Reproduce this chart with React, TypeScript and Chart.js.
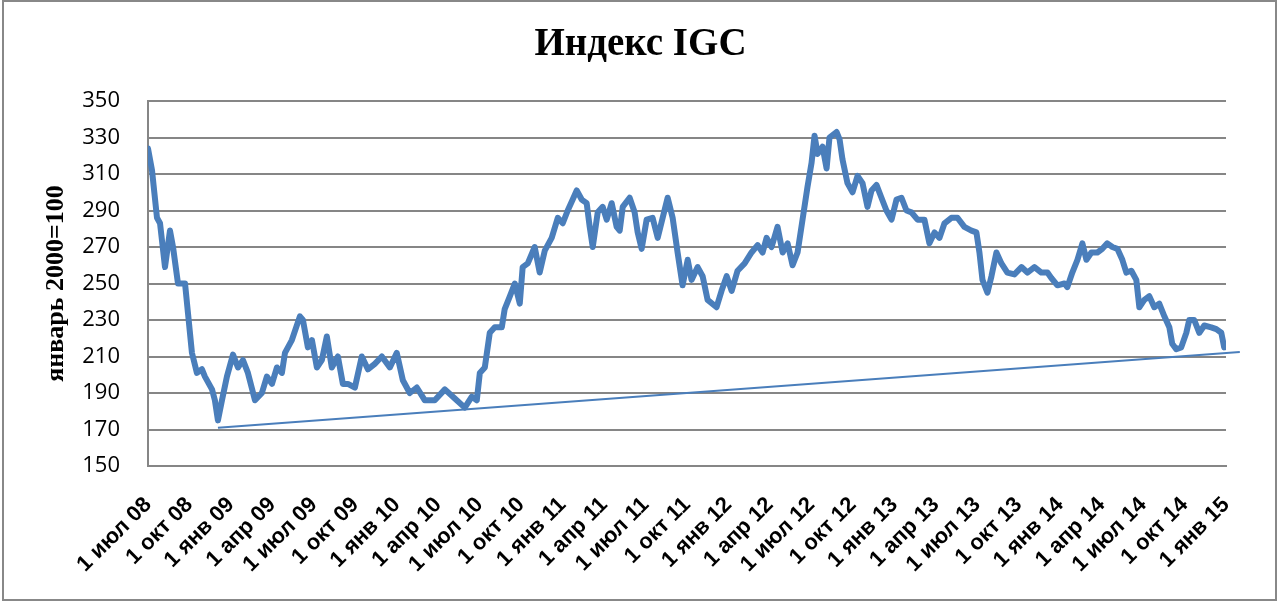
import React, { useEffect, useRef } from "react";
import { Chart, registerables } from "chart.js";

Chart.register(...registerables);

const chartTitle = "Индекс IGC";
const yAxisTitle = "январь 2000=100";

// x: months since 1 Jul 2008
const months = [
  0.0, 0.29, 0.65, 0.87, 1.23, 1.59, 1.81, 2.17, 2.68, 2.89, 3.18, 3.54, 3.9, 4.12, 4.63, 4.84, 5.06, 5.35, 5.71,
  6.15, 6.51, 6.87, 7.23, 7.74, 8.24, 8.6, 8.97, 9.33, 9.69, 9.91, 10.41, 10.99, 11.21, 11.57, 11.86, 12.22, 12.58,
  12.94, 13.3, 13.74, 14.1, 14.46, 14.97, 15.47, 15.91, 16.41, 16.92, 17.5, 18.0, 18.44, 18.94, 19.45, 20.03, 20.75,
  21.48, 22.2, 22.92, 23.43, 23.79, 24.01, 24.37, 24.73, 25.09, 25.6, 25.81, 26.18, 26.54, 26.9, 27.11, 27.48, 27.98,
  28.34, 28.71, 29.21, 29.65, 30.01, 30.37, 30.73, 31.02, 31.38, 31.74, 31.96, 32.18, 32.54, 32.9, 33.19, 33.55, 33.91,
  34.13, 34.35, 34.85, 35.21, 35.43, 35.72, 36.08, 36.51, 36.88, 37.24, 37.6, 37.96, 38.32, 38.68, 39.05, 39.33, 39.77,
  40.13, 40.49, 41.14, 41.5, 41.87, 42.23, 42.66, 43.17, 43.67, 44.11, 44.47, 44.76, 45.12, 45.55, 45.92, 46.28, 46.64,
  47.0, 47.36, 47.72, 48.01, 48.23, 48.45, 48.81, 49.1, 49.31, 49.82, 50.04, 50.25, 50.61, 50.98, 51.34, 51.7, 52.06,
  52.35, 52.71, 53.07, 53.43, 53.8, 54.16, 54.52, 54.88, 55.24, 55.68, 56.18, 56.54, 56.91, 57.27, 57.63, 58.13, 58.57,
  59.07, 59.58, 59.94, 60.16, 60.38, 60.74, 61.03, 61.39, 61.75, 62.18, 62.69, 63.2, 63.63, 64.14, 64.64, 65.08, 65.36,
  65.8, 66.31, 66.52, 66.88, 67.25, 67.61, 67.9, 68.26, 68.69, 69.05, 69.41, 69.78, 70.14, 70.5, 70.79, 71.15, 71.51,
  71.73, 72.09, 72.45, 72.81, 73.17, 73.54, 73.9, 74.11, 74.4, 74.76, 75.13, 75.34, 75.7, 76.07, 76.43, 76.93, 77.3,
  77.66, 77.87,
];

const igc = [
  324, 312, 286, 283, 259, 279, 270, 250, 250, 234, 212, 201, 203, 199, 192, 186, 175, 186, 199,
  211, 204, 208, 201, 186, 190, 199, 195, 204, 201, 212, 219, 232, 230, 215, 219, 204, 208,
  221, 204, 210, 195, 195, 193, 210, 203, 206, 210, 204, 212, 197, 190, 193, 186, 186,
  192, 187, 182, 188, 186, 201, 204, 223, 226, 226, 236, 243, 250, 239, 259, 261, 270,
  256, 268, 275, 286, 283, 290, 296, 301, 296, 294, 281, 270, 289, 292, 285, 294, 281,
  279, 292, 297, 289, 278, 269, 285, 286, 275, 286, 297, 286, 267, 249, 263, 252, 259,
  254, 241, 237, 246, 254, 246, 257, 261, 267, 271, 267, 275, 270, 281, 267, 272, 260,
  267, 285, 303, 316, 331, 321, 325, 313, 330, 333, 329, 318, 305, 300, 309, 305, 292,
  301, 304, 297, 290, 285, 296, 297, 290, 289, 285, 285, 272, 278, 275, 283, 286, 286,
  281, 279, 278, 267, 252, 245, 254, 267, 261, 256, 255, 259, 256, 259, 256, 256, 253,
  249, 250, 248, 256, 263, 272, 263, 267, 267, 269, 272, 270, 269, 263, 256, 257, 252,
  237, 241, 243, 237, 239, 232, 226, 217, 214, 215, 223, 230, 230, 223, 227, 226, 225,
  223, 215,
];

const trendMonths = [5.06, 79.0];
const trendValues = [171, 212.5];

const tickLabels = [
  "1 июл 08", "1 окт 08", "1 янв 09", "1 апр 09", "1 июл 09", "1 окт 09", "1 янв 10", "1 апр 10", "1 июл 10",
  "1 окт 10", "1 янв 11", "1 апр 11", "1 июл 11", "1 окт 11", "1 янв 12", "1 апр 12", "1 июл 12", "1 окт 12",
  "1 янв 13", "1 апр 13", "1 июл 13", "1 окт 13", "1 янв 14", "1 апр 14", "1 июл 14", "1 окт 14", "1 янв 15",
];

export default function App() {
  const ref = useRef<HTMLCanvasElement | null>(null);

  useEffect(() => {
    if (!ref.current) return;
    const lineColor = "#4A7EBB";
    const gridColor = "#868686";
    const chart = new Chart(ref.current, {
      type: "line",
      data: {
        datasets: [
          {
            data: months.map((m, i) => ({ x: m, y: igc[i] })),
            borderColor: lineColor,
            borderWidth: 6,
            pointRadius: 0,
            tension: 0,
            borderJoinStyle: "round",
            borderCapStyle: "round",
          },
          {
            data: trendMonths.map((m, i) => ({ x: m, y: trendValues[i] })),
            borderColor: lineColor,
            borderWidth: 2,
            pointRadius: 0,
            clip: false,
          },
        ],
      },
      options: {
        animation: false,
        responsive: false,
        maintainAspectRatio: false,
        layout: { padding: { left: 55, right: 55, top: 0, bottom: 0 } },
        plugins: {
          legend: { display: false },
          tooltip: { enabled: false },
          title: {
            display: true,
            text: chartTitle,
            color: "#000",
            font: { family: "'Liberation Serif', 'Times New Roman', serif", size: 39, weight: "bold" },
            padding: { top: 22, bottom: 32.2 },
          },
        },
        scales: {
          x: {
            type: "linear",
            min: 0,
            max: 78,
            grid: { display: false, drawTicks: false },
            border: { display: true, color: gridColor, width: 2 },
            ticks: {
              stepSize: 3,
              autoSkip: false,
              maxRotation: 45,
              minRotation: 45,
              padding: 26,
              color: "#000",
              font: { family: "'Liberation Sans', Arial, sans-serif", size: 22, weight: "bold" },
              callback: (v: any) => {
                const idx = Math.round(Number(v) / 3);
                return tickLabels[idx] ?? "";
              },
            },
            afterFit: (s: any) => {
              s.height = 137;
            },
          },
          y: {
            min: 150,
            max: 350,
            grid: { color: gridColor, lineWidth: 2, drawTicks: false },
            border: { display: true, color: gridColor, width: 2 },
            ticks: {
              stepSize: 20,
              padding: 28,
              color: "#000",
              font: { family: "'Open Sans', sans-serif", size: 22 },
            },
            title: {
              display: true,
              text: yAxisTitle,
              color: "#000",
              font: { family: "'Liberation Serif', 'Times New Roman', serif", size: 26, weight: "bold" },
              padding: { top: -14, bottom: 0 },
            },
            afterFit: (s: any) => {
              s.width = 93;
            },
          },
        },
      },
    });
    return () => chart.destroy();
  }, []);

  return (
    <div style={{ position: "fixed", left: 0, top: 0, width: 1281, height: 603, background: "#fff" }}>
      <canvas ref={ref} width={1281} height={603} style={{ position: "absolute", left: 0, top: 0 }} />
      <div
        style={{
          position: "absolute",
          left: 2,
          top: 0,
          width: 1275,
          height: 601,
          border: "2px solid #888",
          boxSizing: "border-box",
          pointerEvents: "none",
        }}
      />
    </div>
  );
}
